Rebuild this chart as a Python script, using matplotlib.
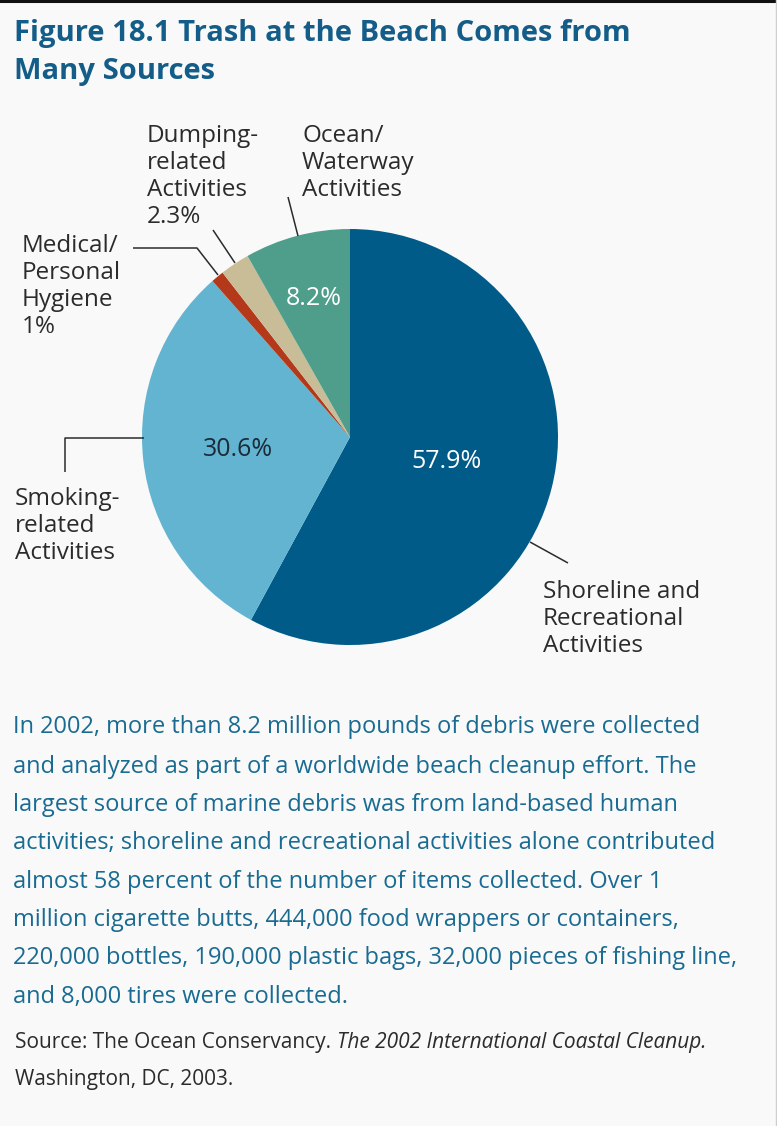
import numpy as np
import matplotlib
matplotlib.use('Agg')
import matplotlib.pyplot as plt

# data (clockwise from 12 o'clock)
sources = ['Shoreline and\nRecreational\nActivities',
           'Smoking-\nrelated\nActivities',
           'Medical/\nPersonal\nHygiene',
           'Dumping-\nrelated\nActivities',
           'Ocean/\nWaterway\nActivities']
shares = [57.9, 30.6, 1.0, 2.3, 8.2]
slice_colors = ['#005b88', '#62b4d1', '#b4391a', '#c9bd97', '#4f9e8b']

body_lines = [
    "In 2002, more than 8.2 million pounds of debris were collected",
    "and analyzed as part of a worldwide beach cleanup effort. The",
    "largest source of marine debris was from land-based human",
    "activities; shoreline and recreational activities alone contributed",
    "almost 58 percent of the number of items collected. Over 1",
    "million cigarette butts, 444,000 food wrappers or containers,",
    "220,000 bottles, 190,000 plastic bags, 32,000 pieces of fishing line,",
    "and 8,000 tires were collected.",
]

W, H = 777, 1126
BG = '#f9f9f9'
TITLE_C = '#135d88'
BODY_C = '#196b92'
INK = '#2b2b2b'
FONT = ['Open Sans', 'DejaVu Sans']

plt.rcParams['font.family'] = FONT

fig = plt.figure(figsize=(W / 100, H / 100), dpi=100, facecolor=BG)
ax = fig.add_axes([0, 0, 1, 1])
ax.set_facecolor(BG)


def Y(y):
    # image pixel row -> data y
    return H - y


cx, cy, R = 350, Y(437), 208
wedges, _ = ax.pie(shares, colors=slice_colors, startangle=90, counterclock=False,
                   radius=R, center=(cx, cy), frame=True,
                   wedgeprops=dict(linewidth=0))
ax.set_xlim(0, W)
ax.set_ylim(0, H)
ax.axis('off')

# percentages inside the slices
inner_dist = [0.48, 0.54, None, None, 0.69]
inner_color = ['white', '#1b2b38', None, None, 'white']
for w, v, d, c in zip(wedges, shares, inner_dist, inner_color):
    if d is None:
        continue
    ang = np.deg2rad((w.theta1 + w.theta2) / 2)
    ax.text(cx + d * R * np.cos(ang), cy + d * R * np.sin(ang), f"{v:g}%",
            ha='center', va='center', fontsize=18, color=c)

# outside labels
lab_kw = dict(ha='left', va='top', fontsize=17.5, color=INK, linespacing=1.17)
ax.text(543, Y(580), sources[0], **lab_kw)
ax.text(15, Y(487), sources[1], **lab_kw)
ax.text(22, Y(234), sources[2] + f"\n{shares[2]:g}%", **lab_kw)
ax.text(147, Y(124), sources[3] + f"\n{shares[3]:g}%", **lab_kw)
ax.text(302, Y(124), sources[4], **lab_kw)

# leader lines
ln = dict(color=INK, lw=1.1, solid_capstyle='butt')
ax.plot([530, 568], [Y(542), Y(563)], **ln)
ax.plot([65, 65, 144], [Y(472), Y(438), Y(438)], **ln)
ax.plot([133, 197, 218], [Y(248), Y(248), Y(275)], **ln)
ax.plot([213, 235], [Y(230), Y(263)], **ln)
ax.plot([288, 298], [Y(197), Y(236)], **ln)

# title
ax.text(14, Y(33), "Figure 18.1 Trash at the Beach Comes from", ha='left', va='center',
        fontsize=21, fontweight='bold', color=TITLE_C)
ax.text(14, Y(71), "Many Sources", ha='left', va='center',
        fontsize=21, fontweight='bold', color=TITLE_C)

# body text
body_y = [727, 767, 805, 843, 882, 920, 958, 997]
for s, yy in zip(body_lines, body_y):
    ax.text(13, Y(yy), s, ha='left', va='center', fontsize=17, color=BODY_C)

# source note
t1 = ax.text(15, Y(1053), "Source: The Ocean Conservancy.", ha='left', va='bottom',
             fontsize=15, color=INK)
ax.annotate("The 2002 International Coastal Cleanup.", xy=(1, 0), xycoords=t1,
            xytext=(4, 0), textcoords='offset points', ha='left', va='bottom',
            fontsize=15, color=INK, fontstyle='italic')
ax.text(15, Y(1080), "Washington, DC, 2003.", ha='left', va='center',
        fontsize=15, color=INK)

# frame edges of the scanned page
ax.plot([0, W], [H - 1, H - 1], color='#111111', lw=2.2)
ax.plot([W - 1.5, W - 1.5], [0, H], color='#cfcfcf', lw=1.0)

fig.savefig('out.png', dpi=100, facecolor=BG)
